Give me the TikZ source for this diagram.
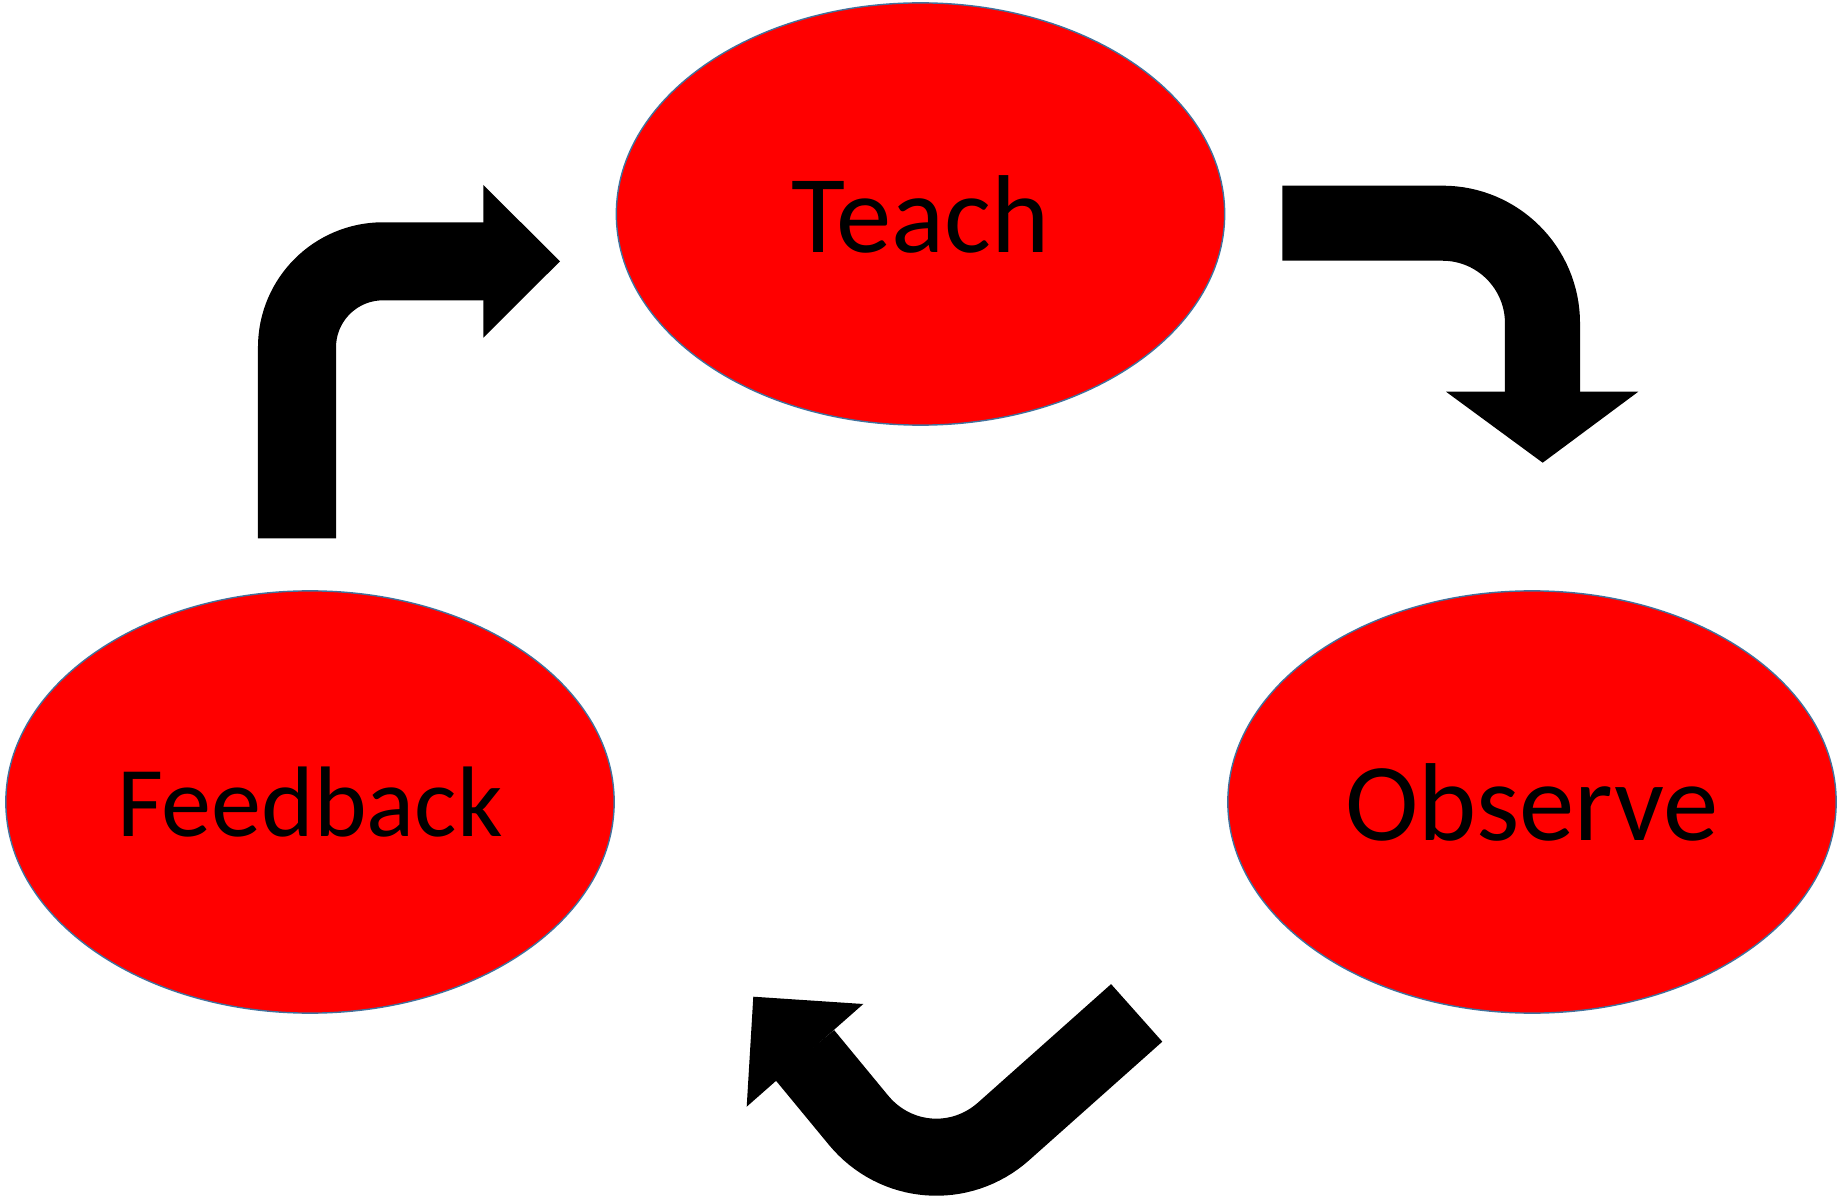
\documentclass[tikz,border=0pt]{standalone}
\usepackage{fontspec}
\setmainfont{Carlito}
\usetikzlibrary{shapes.geometric}
\definecolor{phasered}{RGB}{255,0,0}
\definecolor{phaseedge}{RGB}{65,113,156}
\begin{document}
\begin{tikzpicture}[x=0.01cm,y=-0.01cm,
        phase/.style={ellipse,fill=phasered,draw=phaseedge,line width=0.4pt,
            minimum width=6.08cm,minimum height=4.22cm,inner sep=0pt},
        shaft/.style={line width=0.77cm},
        head/.style={fill=black}]
        \useasboundingbox (0,0) rectangle (1841,1197);
        \node[phase,font=\fontsize{31.5}{38}\selectfont] (teach)    at (920.5,214) {Teach};
        \node[phase,font=\fontsize{31.5}{38}\selectfont] (observe)  at (1532,802)  {Observe};
        \node[phase,font=\fontsize{28.5}{34}\selectfont] (feedback) at (310,802)   {Feedback};
        \coordinate (fbtail) at (297,538.3);
        \coordinate (fbbend) at (297,261.3);
        \coordinate (fbend)  at (484,261.3);
        \draw[shaft,line width=0.78cm,rounded corners=0.86cm] (fbtail) -- (fbbend) -- (fbend);
        \fill[head] (483.3,185) -- (560,261.3) -- (483.3,337.7) -- cycle;
        \coordinate (tctail) at (1282.3,223.2);
        \coordinate (tcbend) at (1542.5,223.2);
        \coordinate (tcend)  at (1542.5,392.7);
        \draw[shaft,line width=0.75cm,rounded corners=1.0cm] (tctail) -- (tcbend) -- (tcend);
        \fill[head] (1446,391.7) -- (1638.3,391.7) -- (1542.7,462.7) -- cycle;
        \coordinate (obtail) at (1136.7,1012.9);
        \coordinate (obbend) at (925.3,1201.1);
        \coordinate (obend)  at (804.4,1054.6);
        \draw[shaft,rounded corners=1.05cm] (obtail) -- (obbend) -- (obend);
        \fill[head] (863.3,1004) -- (753.3,996.7) -- (746.7,1106.7) -- cycle;
    \end{tikzpicture}
\end{document}
